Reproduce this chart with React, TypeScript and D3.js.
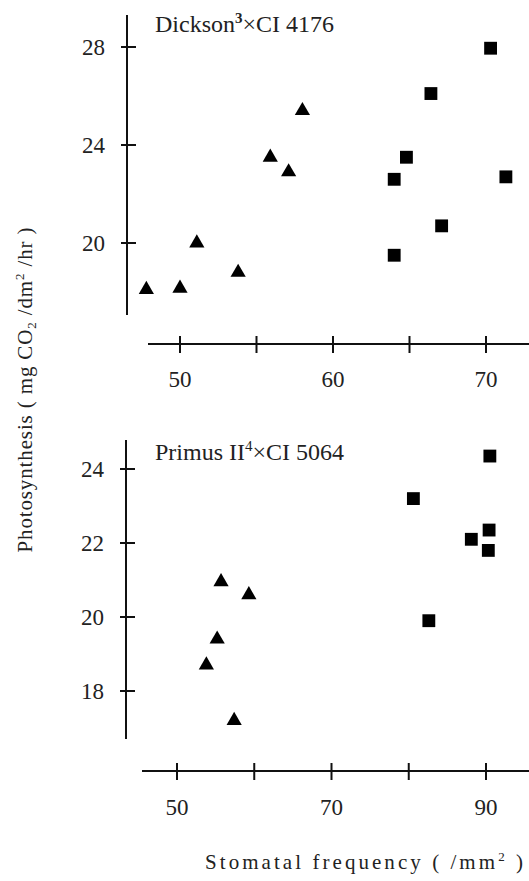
import React from "react";
import * as d3 from "d3";

// Top panel: Dickson x CI 4176
const topTriX = [47.8, 50.0, 51.1, 53.8, 55.9, 57.1, 58.0];
const topTriY = [18.1, 18.15, 20.0, 18.8, 23.5, 22.9, 25.4];
const topSqX = [70.3, 66.4, 64.8, 64.0, 71.3, 67.1, 64.0];
const topSqY = [27.95, 26.1, 23.5, 22.6, 22.7, 20.7, 19.5];
const topXTicks = [50, 55, 60, 65, 70];
const topXLabels = [50, 60, 70];
const topYTicks = [20, 24, 28];

// Bottom panel: Primus II x CI 5064
const botTriX = [55.7, 59.3, 55.2, 53.8, 57.4];
const botTriY = [20.95, 20.6, 19.4, 18.7, 17.2];
const botSqX = [90.5, 80.6, 88.1, 90.4, 90.3, 82.6];
const botSqY = [24.35, 23.2, 22.1, 22.35, 21.8, 19.9];
const botXTicks = [50, 60, 70, 80, 90];
const botXLabels = [50, 70, 90];
const botYTicks = [18, 20, 22, 24];

const FONT = "'Liberation Serif', 'Times New Roman', serif";

const triPath = d3.symbol().type(d3.symbolTriangle).size(100)() as string;
const sqPath = d3.symbol().type(d3.symbolSquare).size(165)() as string;

type PanelProps = {
  xDomain: [number, number];
  xRange: [number, number];
  yDomain: [number, number];
  yRange: [number, number];
  xAxisY: number;
  xAxisStart: number;
  yAxisX: number;
  yAxisTop: number;
  yAxisBottom: number;
  xTicks: number[];
  xLabels: number[];
  yTicks: number[];
  triX: number[];
  triY: number[];
  sqX: number[];
  sqY: number[];
  title: React.ReactNode;
  titleY: number;
  xLabelY: number;
};

function Panel(p: PanelProps) {
  const x = d3.scaleLinear().domain(p.xDomain).range(p.xRange);
  const y = d3.scaleLinear().domain(p.yDomain).range(p.yRange);
  return (
    <g>
      {/* y axis */}
      <line x1={p.yAxisX} x2={p.yAxisX} y1={p.yAxisTop} y2={p.yAxisBottom} stroke="#111" strokeWidth={2} />
      {p.yTicks.map((t) => (
        <g key={"yt" + t}>
          <line x1={p.yAxisX - 6} x2={p.yAxisX + 9} y1={y(t)} y2={y(t)} stroke="#111" strokeWidth={2} />
          <text x={p.yAxisX - 22} y={y(t) + 8} textAnchor="end" fontSize={23} fontFamily={FONT} fill="#222">
            {t}
          </text>
        </g>
      ))}
      {/* x axis */}
      <line x1={p.xAxisStart} x2={529} y1={p.xAxisY} y2={p.xAxisY} stroke="#111" strokeWidth={2} />
      {p.xTicks.map((t) => (
        <line key={"xt" + t} x1={x(t)} x2={x(t)} y1={p.xAxisY - 8} y2={p.xAxisY + 9} stroke="#111" strokeWidth={2} />
      ))}
      {p.xLabels.map((t) => (
        <text key={"xl" + t} x={x(t)} y={p.xLabelY} textAnchor="middle" fontSize={23} fontFamily={FONT} fill="#222">
          {t}
        </text>
      ))}
      {/* title */}
      <text x={155} y={p.titleY} fontSize={24} fontFamily={FONT} fill="#222">
        {p.title}
      </text>
      {/* markers */}
      {p.triX.map((v, i) => (
        <path key={"tr" + i} d={triPath} transform={`translate(${x(v)},${y(p.triY[i])})`} fill="#000" />
      ))}
      {p.sqX.map((v, i) => (
        <path key={"sq" + i} d={sqPath} transform={`translate(${x(v)},${y(p.sqY[i])})`} fill="#000" />
      ))}
    </g>
  );
}

export default function App() {
  return (
    <svg
      width={529}
      height={881}
      style={{ position: "absolute", left: 0, top: 0, background: "#fff" }}
    >
      <rect x={0} y={0} width={529} height={881} fill="#fff" />
      <Panel
        xDomain={[50, 70]}
        xRange={[180, 486]}
        yDomain={[20, 28]}
        yRange={[243, 47]}
        xAxisY={344}
        xAxisStart={148}
        yAxisX={127}
        yAxisTop={15}
        yAxisBottom={315}
        xTicks={topXTicks}
        xLabels={topXLabels}
        yTicks={topYTicks}
        triX={topTriX}
        triY={topTriY}
        sqX={topSqX}
        sqY={topSqY}
        titleY={32}
        xLabelY={387}
        title={
          <>
            Dickson
            <tspan fontSize={15} dy={-9} fontWeight="bold">3</tspan>
            <tspan dy={9}>×CI 4176</tspan>
          </>
        }
      />
      <Panel
        xDomain={[50, 90]}
        xRange={[177, 486]}
        yDomain={[18, 24]}
        yRange={[691, 469]}
        xAxisY={771}
        xAxisStart={142}
        yAxisX={126}
        yAxisTop={440}
        yAxisBottom={739}
        xTicks={botXTicks}
        xLabels={botXLabels}
        yTicks={botYTicks}
        triX={botTriX}
        triY={botTriY}
        sqX={botSqX}
        sqY={botSqY}
        titleY={460}
        xLabelY={815}
        title={
          <>
            Primus II
            <tspan fontSize={15} dy={-9}>4</tspan>
            <tspan dy={9}>×CI 5064</tspan>
          </>
        }
      />
      {/* y axis label */}
      <text
        transform="translate(32,390) rotate(-90)"
        textAnchor="middle"
        fontSize={21}
        fontFamily={FONT}
        fill="#222"
        textLength={325}
        lengthAdjust="spacing"
      >
        Photosynthesis ( mg CO
        <tspan fontSize={13} dy={4}>2</tspan>
        <tspan dy={-4}> /dm</tspan>
        <tspan fontSize={13} dy={-8}>2</tspan>
        <tspan dy={8}> /hr )</tspan>
      </text>
      {/* x axis label */}
      <text
        x={364}
        y={869}
        textAnchor="middle"
        fontSize={21}
        fontFamily={FONT}
        fill="#222"
        textLength={318}
        lengthAdjust="spacing"
      >
        Stomatal frequency ( /mm
        <tspan fontSize={13} dy={-8}>2</tspan>
        <tspan dy={8}> )</tspan>
      </text>
    </svg>
  );
}
